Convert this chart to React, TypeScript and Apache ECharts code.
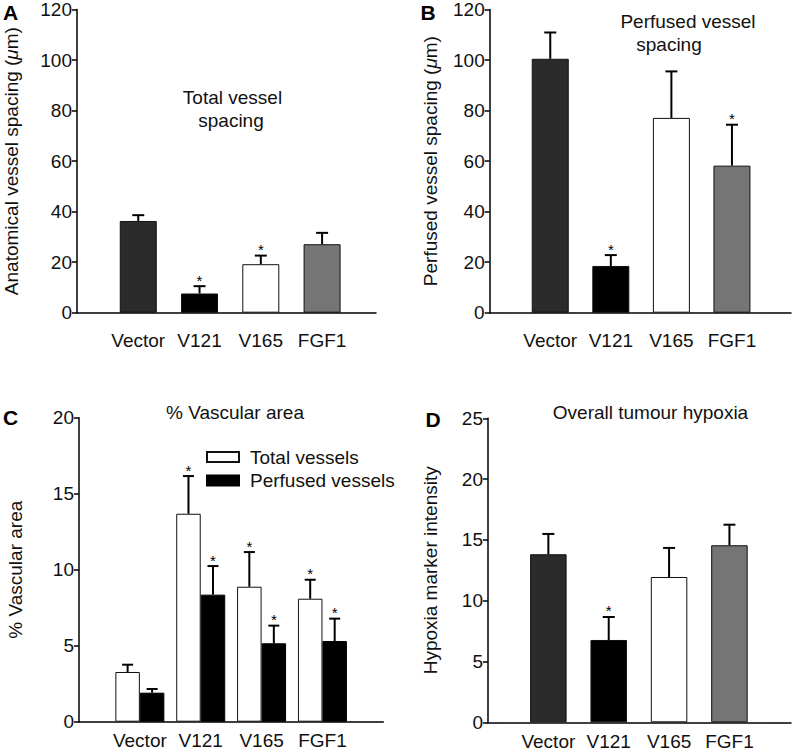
import React, { useEffect, useRef } from "react";
import * as echarts from "echarts";

// ---------- data ----------
const categories = ["Vector", "V121", "V165", "FGF1"];

// Panel A: Total vessel spacing (µm)
const totalSpacingMean = [36.3, 7.6, 19.2, 27.1];
const totalSpacingUpper = [38.6, 10.5, 22.6, 31.6];
const totalSpacingSig = [false, true, true, false];

// Panel B: Perfused vessel spacing (µm)
const perfSpacingMean = [100.5, 18.5, 77.1, 58.2];
const perfSpacingUpper = [110.9, 22.8, 95.5, 74.4];
const perfSpacingSig = [false, true, false, true];

// Panel C: % vascular area
const areaTotalMean = [3.27, 13.68, 8.88, 8.09];
const areaTotalUpper = [3.75, 16.16, 11.16, 9.34];
const areaTotalSig = [false, true, true, true];
const areaPerfMean = [1.91, 8.36, 5.16, 5.31];
const areaPerfUpper = [2.15, 10.24, 6.32, 6.78];
const areaPerfSig = [false, true, true, true];

// Panel D: Hypoxia marker intensity
const hypoxiaMean = [13.82, 6.77, 11.95, 14.56];
const hypoxiaUpper = [15.49, 8.66, 14.34, 16.25];
const hypoxiaSig = [false, true, false, false];

// ---------- styling ----------
const FONT = "Liberation Sans, Arial, Helvetica, sans-serif";
const FS = 19;
const TXT = "#111";
const barColors = ["#2b2b2b", "#000000", "#ffffff", "#757575"];

function barData(means: number[]) {
  return means.map((v, i) => ({
    value: [i, v],
    itemStyle: { color: barColors[i], borderColor: "#111", borderWidth: 1 },
  }));
}

function errData(means: number[], uppers: number[], sig: boolean[]) {
  return means.map((m, i) => [i, m, uppers[i], sig[i] ? 1 : 0]);
}

function errRender(offsetPx: number, capW: number) {
  return (params: any, api: any) => {
    const x = api.value(0);
    const m = api.value(1);
    const u = api.value(2);
    const s = api.value(3);
    const p0 = api.coord([x, m]);
    const p1 = api.coord([x, u]);
    const cx = p0[0] + offsetPx;
    const children: any[] = [
      {
        type: "line",
        shape: { x1: cx, y1: p0[1], x2: cx, y2: p1[1] },
        style: { stroke: "#000", lineWidth: 2 },
      },
      {
        type: "line",
        shape: { x1: cx - capW / 2, y1: p1[1], x2: cx + capW / 2, y2: p1[1] },
        style: { stroke: "#000", lineWidth: 2 },
      },
    ];
    if (s) {
      children.push({
        type: "text",
        x: cx,
        y: p1[1] - 6,
        style: {
          text: "*",
          fontSize: 15,
          fontFamily: FONT,
          fill: "#000",
          align: "center",
          verticalAlign: "middle",
        },
      });
    }
    return { type: "group", children };
  };
}

function xAxisCfg(gridIndex: number, max: number, margin: number) {
  return {
    type: "value",
    gridIndex,
    min: -1,
    max,
    interval: 1,
    axisLine: { show: true, onZero: false, lineStyle: { color: "#000", width: 1.5 } },
    axisTick: { show: false },
    splitLine: { show: false },
    axisLabel: {
      margin,
      fontSize: FS,
      fontFamily: FONT,
      color: TXT,
      showMinLabel: true,
      showMaxLabel: true,
      formatter: (v: number) =>
        Number.isInteger(v) && v >= 0 && v < categories.length ? categories[v] : "",
    },
  };
}

function yAxisCfg(gridIndex: number, max: number, interval: number, name: string, nameGap: number) {
  return {
    type: "value",
    gridIndex,
    min: 0,
    max,
    interval,
    name,
    nameLocation: "middle",
    nameRotate: 90,
    nameGap,
    nameTextStyle: {
      fontSize: FS,
      fontFamily: FONT,
      color: TXT,
      rich: {
        n: { fontSize: FS, fontFamily: FONT, color: TXT },
        i: { fontSize: FS, fontFamily: FONT, color: TXT, fontStyle: "italic" },
      },
    },
    axisLine: { show: true, onZero: false, lineStyle: { color: "#000", width: 1.5 } },
    axisTick: { show: true, inside: false, length: 5, lineStyle: { color: "#000", width: 1.5 } },
    splitLine: { show: false },
    axisLabel: { margin: 5, fontSize: FS, fontFamily: FONT, color: TXT },
  };
}

function textEl(text: string, x: number, y: number, opts: any = {}) {
  return {
    type: "text",
    x,
    y,
    style: {
      text,
      fontSize: FS,
      fontFamily: FONT,
      fill: TXT,
      align: "center",
      verticalAlign: "middle",
      ...opts,
    },
  };
}

export default function App() {
  const ref = useRef<HTMLDivElement>(null);

  useEffect(() => {
    if (!ref.current) return;
    const chart = echarts.init(ref.current, undefined, { renderer: "svg" });
    const letter = { fontWeight: "bold", fontSize: 21, fill: "#000" };

    const option: any = {
      animation: false,
      backgroundColor: "#fff",
      grid: [
        { left: 77, top: 8.3, width: 299, height: 304.4 },
        { left: 489.7, top: 8.3, width: 304.3, height: 304.4 },
        { left: 79, top: 417.7, width: 304.3, height: 304 },
        { left: 488, top: 418.3, width: 306, height: 304 },
      ],
      xAxis: [
        xAxisCfg(0, 3.88, 18),
        xAxisCfg(1, 3.975, 18),
        xAxisCfg(2, 4.0, 9),
        xAxisCfg(3, 4.02, 10),
      ],
      yAxis: [
        yAxisCfg(0, 120, 20, "{n|Anatomical vessel spacing (}{i|μ}{n|m)}", 56),
        yAxisCfg(1, 120, 20, "{n|Perfused vessel spacing (}{i|μ}{n|m)}", 50),
        yAxisCfg(2, 20, 5, "% Vascular area", 54),
        yAxisCfg(3, 25, 5, "Hypoxia marker intensity", 48),
      ],
      legend: {
        show: true,
        orient: "vertical",
        left: 206,
        top: 447.5,
        padding: 0,
        itemWidth: 32,
        itemHeight: 10,
        itemGap: 4.6,
        icon: "rect",
        selectedMode: false,
        data: ["Total vessels", "Perfused vessels"],
        textStyle: { fontSize: FS, fontFamily: FONT, color: TXT, padding: [0, 0, 0, 6] },
      },
      graphic: [
        textEl("A", 10.5, 12, letter),
        textEl("B", 428, 12, letter),
        textEl("C", 10.5, 417.5, letter),
        textEl("D", 433, 419, letter),
        textEl("Total vessel", 232.5, 97.7),
        textEl("spacing", 231, 120),
        textEl("Perfused vessel", 688, 21),
        textEl("spacing", 669, 44.3),
        textEl("% Vascular area", 235, 412.7),
        textEl("Overall tumour hypoxia", 650.5, 412.7),
      ],
      series: [
        // Panel A
        {
          type: "bar",
          xAxisIndex: 0,
          yAxisIndex: 0,
          barWidth: 37,
          data: barData(totalSpacingMean),
        },
        {
          type: "custom",
          xAxisIndex: 0,
          yAxisIndex: 0,
          encode: { x: 0, y: [1, 2] },
          renderItem: errRender(0, 12),
          data: errData(totalSpacingMean, totalSpacingUpper, totalSpacingSig),
          z: 3,
        },
        // Panel B
        {
          type: "bar",
          xAxisIndex: 1,
          yAxisIndex: 1,
          barWidth: 37,
          data: barData(perfSpacingMean),
        },
        {
          type: "custom",
          xAxisIndex: 1,
          yAxisIndex: 1,
          encode: { x: 0, y: [1, 2] },
          renderItem: errRender(0, 12),
          data: errData(perfSpacingMean, perfSpacingUpper, perfSpacingSig),
          z: 3,
        },
        // Panel C
        {
          type: "bar",
          name: "Total vessels",
          xAxisIndex: 2,
          yAxisIndex: 2,
          barWidth: 24.5,
          barGap: "0%",
          itemStyle: { color: "#ffffff", borderColor: "#111", borderWidth: 1 },
          data: areaTotalMean.map((v, i) => [i, v]),
        },
        {
          type: "bar",
          name: "Perfused vessels",
          xAxisIndex: 2,
          yAxisIndex: 2,
          barWidth: 24.5,
          barGap: "0%",
          itemStyle: { color: "#000000", borderColor: "#000", borderWidth: 1 },
          data: areaPerfMean.map((v, i) => [i, v]),
        },
        {
          type: "custom",
          xAxisIndex: 2,
          yAxisIndex: 2,
          encode: { x: 0, y: [1, 2] },
          renderItem: errRender(-12.25, 11),
          data: errData(areaTotalMean, areaTotalUpper, areaTotalSig),
          z: 3,
        },
        {
          type: "custom",
          xAxisIndex: 2,
          yAxisIndex: 2,
          encode: { x: 0, y: [1, 2] },
          renderItem: errRender(12.25, 11),
          data: errData(areaPerfMean, areaPerfUpper, areaPerfSig),
          z: 3,
        },
        // Panel D
        {
          type: "bar",
          xAxisIndex: 3,
          yAxisIndex: 3,
          barWidth: 36.5,
          data: barData(hypoxiaMean),
        },
        {
          type: "custom",
          xAxisIndex: 3,
          yAxisIndex: 3,
          encode: { x: 0, y: [1, 2] },
          renderItem: errRender(0, 12),
          data: errData(hypoxiaMean, hypoxiaUpper, hypoxiaSig),
          z: 3,
        },
      ],
    };

    chart.setOption(option);
    return () => chart.dispose();
  }, []);

  return (
    <div
      ref={ref}
      style={{ position: "absolute", left: 0, top: 0, width: 794, height: 756 }}
    />
  );
}
